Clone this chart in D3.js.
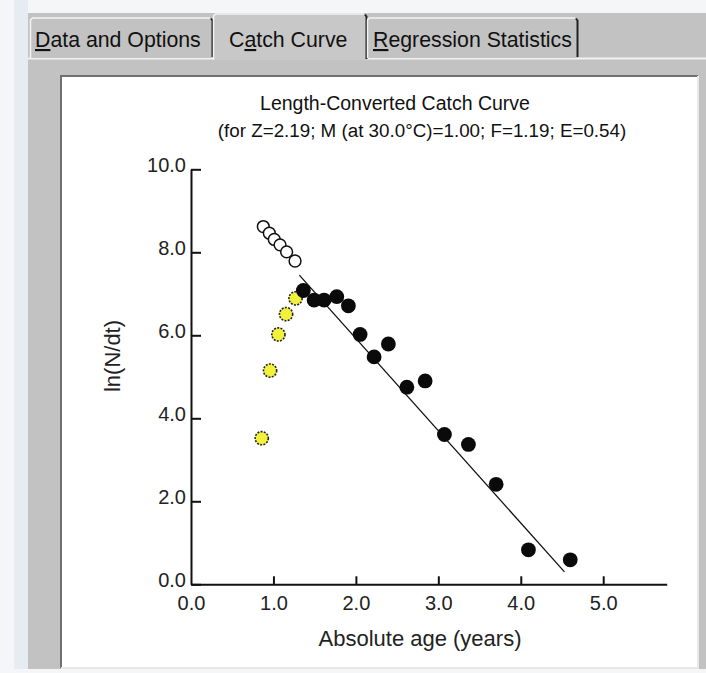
<!DOCTYPE html>
<html><head><meta charset="utf-8">
<script src="https://cdn.jsdelivr.net/npm/d3@7/dist/d3.min.js"></script>
<style>
html,body{margin:0;padding:0;background:#fff;}
svg{display:block;font-family:"Liberation Sans",Arial,sans-serif;}
</style></head>
<body>
<svg id="c" width="706" height="673"></svg>
<script>
// ---- data ----
const titleText = "Length-Converted Catch Curve";
const subtitleText = "(for Z=2.19; M (at 30.0\u00B0C)=1.00; F=1.19; E=0.54)";
const xLabel = "Absolute age (years)";
const yLabel = "ln(N/dt)";
const xTicks = [0, 1, 2, 3, 4, 5];
const yTicks = [0, 2, 4, 6, 8, 10];
// extrapolated (open) points
const openX = [0.877, 0.95, 1.01, 1.08, 1.16, 1.262];
const openY = [8.62, 8.46, 8.31, 8.18, 8.01, 7.79];
// not fully recruited (yellow) points
const yellowX = [0.858, 0.959, 1.06, 1.153, 1.268];
const yellowY = [3.52, 5.15, 6.02, 6.51, 6.89];
// points used in regression (black)
const blackX = [1.363, 1.493, 1.614, 1.768, 1.909, 2.051, 2.221, 2.394, 2.618, 2.840, 3.074, 3.365, 3.701, 4.093, 4.600];
const blackY = [7.08, 6.85, 6.85, 6.93, 6.71, 6.02, 5.48, 5.79, 4.75, 4.90, 3.61, 3.37, 2.41, 0.83, 0.59];
// regression line end points
const lineX = [1.314, 4.53];
const lineY = [7.45, 0.30];
const tabs = [
  {pre: "", u: "D", post: "ata and Options"},
  {pre: "C", u: "a", post: "tch Curve"},
  {pre: "", u: "R", post: "egression Statistics"}
];

const svg = d3.select("#c");
const gray = "#c2c2c2";

// ---- window chrome ----
svg.append("rect").attr("x",0).attr("y",0).attr("width",706).attr("height",673).attr("fill","#f4f6f8");
svg.append("rect").attr("x",14).attr("y",0).attr("width",14).attr("height",673).attr("fill","#e6ecf2");
svg.append("rect").attr("x",28).attr("y",13).attr("width",678).attr("height",660).attr("fill",gray);
// tab strip line
svg.append("line").attr("x1",28).attr("x2",706).attr("y1",58.5).attr("y2",58.5).attr("stroke","#f2f2f2").attr("stroke-width",2);

const tabGeom = [
  {x0: 30, x1: 213, y0: 18, y1: 58, tx: 35, sel:false},
  {x0: 213, x1: 367, y0: 14, y1: 60, tx: 229, sel:true},
  {x0: 367, x1: 578, y0: 18, y1: 58, tx: 373, sel:false}
];
tabGeom.forEach((g,i)=>{
  const t = svg.append("g");
  t.append("rect").attr("x",g.x0).attr("y",g.y0).attr("width",g.x1-g.x0).attr("height",g.y1-g.y0)
    .attr("fill", g.sel ? "#c8c8c8" : gray);
  t.append("path").attr("d",`M${g.x0+0.5},${g.y1}V${g.y0+2}l2,-2H${g.x1-3}`).attr("fill","none").attr("stroke","#f4f4f4").attr("stroke-width",1.5);
  t.append("path").attr("d",`M${g.x1-2},${g.y0+0.5}l1.5,2V${g.y1-1}`).attr("fill","none").attr("stroke","#222").attr("stroke-width",2);
  const txt = t.append("text").attr("x",g.tx).attr("y",47).attr("font-size","21.3px").attr("fill","#111");
  txt.append("tspan").text(tabs[i].pre);
  txt.append("tspan").attr("text-decoration","underline").text(tabs[i].u);
  txt.append("tspan").text(tabs[i].post);
});

// panel
svg.append("rect").attr("x",61).attr("y",76).attr("width",637).attr("height",592).attr("fill","#fff");
svg.append("path").attr("d","M61,668V76H698").attr("fill","none").attr("stroke","#707070").attr("stroke-width",2);
svg.append("path").attr("d","M698,76V668H61").attr("fill","none").attr("stroke","#e8e8e8").attr("stroke-width",2);
svg.append("rect").attr("x",0).attr("y",669).attr("width",706).attr("height",4).attr("fill","#f4f6f8");

// ---- chart ----
const x = d3.scaleLinear().domain([0, 5.77]).range([191, 666.7]);
const y = d3.scaleLinear().domain([0, 10]).range([584.3, 169.3]);

svg.append("text").attr("x",395).attr("y",110).attr("text-anchor","middle").attr("font-size","19.5px").attr("fill","#111").text(titleText);
svg.append("text").attr("x",422).attr("y",137).attr("text-anchor","middle").attr("font-size","18.8px").attr("fill","#111").text(subtitleText);

const fmt = d3.format(".1f");
const gx = svg.append("g").attr("transform",`translate(0,${y(0)})`)
  .call(d3.axisBottom(x).tickValues(xTicks).tickFormat(fmt).tickSizeInner(-8).tickSizeOuter(0).tickPadding(12));
const gy = svg.append("g").attr("transform",`translate(${x(0)},0)`)
  .call(d3.axisLeft(y).tickValues(yTicks).tickFormat(fmt).tickSizeInner(-10).tickSizeOuter(0).tickPadding(5));
[gx, gy].forEach(g=>{
  g.select(".domain").attr("stroke","#111").attr("stroke-width",2);
  g.selectAll(".tick line").attr("stroke","#111").attr("stroke-width",2);
  g.selectAll(".tick text").attr("font-size","20px").attr("fill","#222").attr("font-family","'Liberation Sans',Arial,sans-serif");
});
gy.selectAll(".tick text").attr("dy","0.12em");
gx.selectAll(".tick").filter(d=>d===0).select("line").remove();

svg.append("text").attr("x",420).attr("y",646).attr("text-anchor","middle").attr("font-size","22px").attr("fill","#222").text(xLabel);
svg.append("text").attr("transform","translate(120,356) rotate(-90)").attr("text-anchor","middle").attr("font-size","22px").attr("fill","#222").text(yLabel);

// regression line
svg.append("line").attr("x1",x(lineX[0])).attr("y1",y(lineY[0])).attr("x2",x(lineX[1])).attr("y2",y(lineY[1]))
  .attr("stroke","#111").attr("stroke-width",1.3);

// open points
svg.append("g").selectAll("circle").data(openX.map((v,i)=>[v,openY[i]])).join("circle")
  .attr("cx",d=>x(d[0])).attr("cy",d=>y(d[1])).attr("r",5.9)
  .attr("fill","#fff").attr("stroke","#111").attr("stroke-width",1.5);
// yellow points
svg.append("g").selectAll("circle").data(yellowX.map((v,i)=>[v,yellowY[i]])).join("circle")
  .attr("cx",d=>x(d[0])).attr("cy",d=>y(d[1])).attr("r",6.6)
  .attr("fill","#f2f23c").attr("stroke","#222").attr("stroke-width",1.6).attr("stroke-dasharray","2 1.3");
// black points
svg.append("g").selectAll("circle").data(blackX.map((v,i)=>[v,blackY[i]])).join("circle")
  .attr("cx",d=>x(d[0])).attr("cy",d=>y(d[1])).attr("r",7.4)
  .attr("fill","#0a0a0a");
</script>
</body></html>
